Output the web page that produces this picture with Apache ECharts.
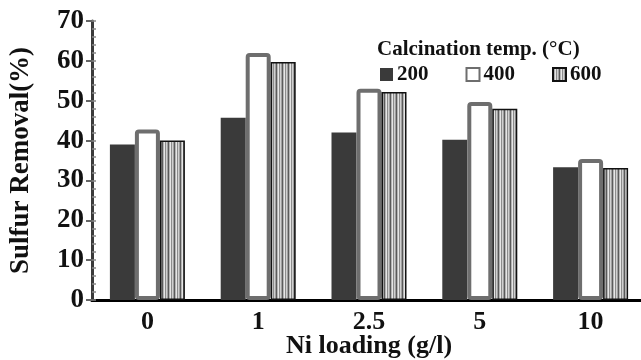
<!DOCTYPE html>
<html>
<head>
<meta charset="utf-8">
<script src="https://cdn.jsdelivr.net/npm/echarts@6/dist/echarts.min.js"></script>
<style>
  html, body { margin: 0; padding: 0; background: #fff; }
  #main { width: 641px; height: 360px; }
</style>
</head>
<body>
<div id="main"></div>
<script>
// 数据
var categories = ['0', '1', '2.5', '5', '10'];
var seriesNames = ['200', '400', '600'];
var temp200 = [39, 45.7, 42, 40.2, 33.3];
var temp400 = [42.8, 62, 53, 49.7, 35.4];
var temp600 = [40, 59.7, 52.2, 48, 33.1];
var yTicks = [0, 10, 20, 30, 40, 50, 60, 70];

var font = '"Liberation Serif", "Times New Roman", serif';

// 竖条纹填充
function stripePattern() {
    var cols = ['#5a5a5a', '#b4b4b4', '#e6e6e6', '#8c8c8c', '#d0d0d0', '#a0a0a0'];
    var c = document.createElement('canvas');
    c.width = cols.length;
    c.height = 4;
    var ctx = c.getContext('2d');
    for (var i = 0; i < cols.length; i++) {
        ctx.fillStyle = cols[i];
        ctx.fillRect(i, 0, 1, 4);
    }
    return { image: c, repeat: 'repeat' };
}

var chart = echarts.init(document.getElementById('main'));

var option = {
    animation: false,
    backgroundColor: '#fff',
    title: {
        text: 'Calcination temp. (\u00B0C)',
        left: 377,
        top: 39,
        padding: 0,
        textStyle: { fontFamily: font, fontWeight: 'bold', fontSize: 21, color: '#111' }
    },
    legend: {
        data: seriesNames,
        icon: 'rect',
        left: 380,
        top: 64,
        padding: 0,
        itemWidth: 13,
        itemHeight: 13,
        itemGap: 37,
        textStyle: { fontFamily: font, fontWeight: 'bold', fontSize: 21, color: '#111', padding: [2, 0, 0, -1] }
    },
    grid: { left: 92, right: -5, top: 21, bottom: 60, containLabel: false, outerBoundsMode: 'none' },
    xAxis: [
        {
            type: 'category',
            data: categories,
            axisLine: { lineStyle: { color: '#3a3a3a', width: 3 } },
            axisTick: { inside: true, length: 4, lineStyle: { color: '#888', width: 1.5 } },
            axisLabel: { margin: 9, fontFamily: font, fontWeight: 'bold', fontSize: 26, color: '#111' },
            name: 'Ni loading (g/l)',
            nameLocation: 'middle',
            nameGap: 33,
            nameMoveOverlap: false,
            nameTextStyle: { fontFamily: font, fontWeight: 'bold', fontSize: 26, color: '#111' }
        },
        {
            // 上边框
            type: 'category',
            data: categories,
            position: 'top',
            axisLine: { lineStyle: { color: '#000', width: 3 } },
            axisTick: { show: false },
            axisLabel: { show: false }
        }
    ],
    yAxis: [
        {
            type: 'value',
            min: 0,
            max: 70,
            interval: 10,
            axisLine: { show: true, lineStyle: { color: '#3a3a3a', width: 3 } },
            axisTick: { show: true, length: 6, lineStyle: { color: '#666', width: 2 } },
            axisLabel: {
                margin: 8,
                fontFamily: font, fontWeight: 'bold', fontSize: 27, color: '#111',
                formatter: function (v) { return yTicks.indexOf(v) >= 0 ? String(v) : ''; }
            },
            splitLine: { show: false },
            name: 'Sulfur Removal(%)',
            nameLocation: 'middle',
            nameGap: 57,
            nameMoveOverlap: false,
            nameTextStyle: { fontFamily: font, fontWeight: 'bold', fontSize: 27, color: '#111' }
        },
        {
            // 内侧小刻度
            type: 'value',
            min: 0,
            max: 70,
            interval: 2,
            position: 'left',
            axisLine: { show: false },
            axisTick: { show: true, inside: true, length: 4, lineStyle: { color: '#888', width: 1.5 } },
            axisLabel: { show: false },
            splitLine: { show: false }
        }
    ],
    series: [
        {
            name: '200',
            type: 'bar',
            data: temp200,
            barWidth: 25,
            barGap: '0%',
            itemStyle: { color: '#3a3a3a' }
        },
        {
            name: '400',
            type: 'bar',
            data: temp400,
            barWidth: 25,
            barGap: '0%',
            itemStyle: { color: '#fff', borderColor: '#6e6e6e', borderWidth: 4, borderRadius: 2 }
        },
        {
            name: '600',
            type: 'bar',
            data: temp600,
            barWidth: 25,
            barGap: '0%',
            itemStyle: { color: stripePattern(), borderColor: '#111', borderWidth: 1.5 }
        }
    ]
};

chart.setOption(option);
</script>
</body>
</html>
